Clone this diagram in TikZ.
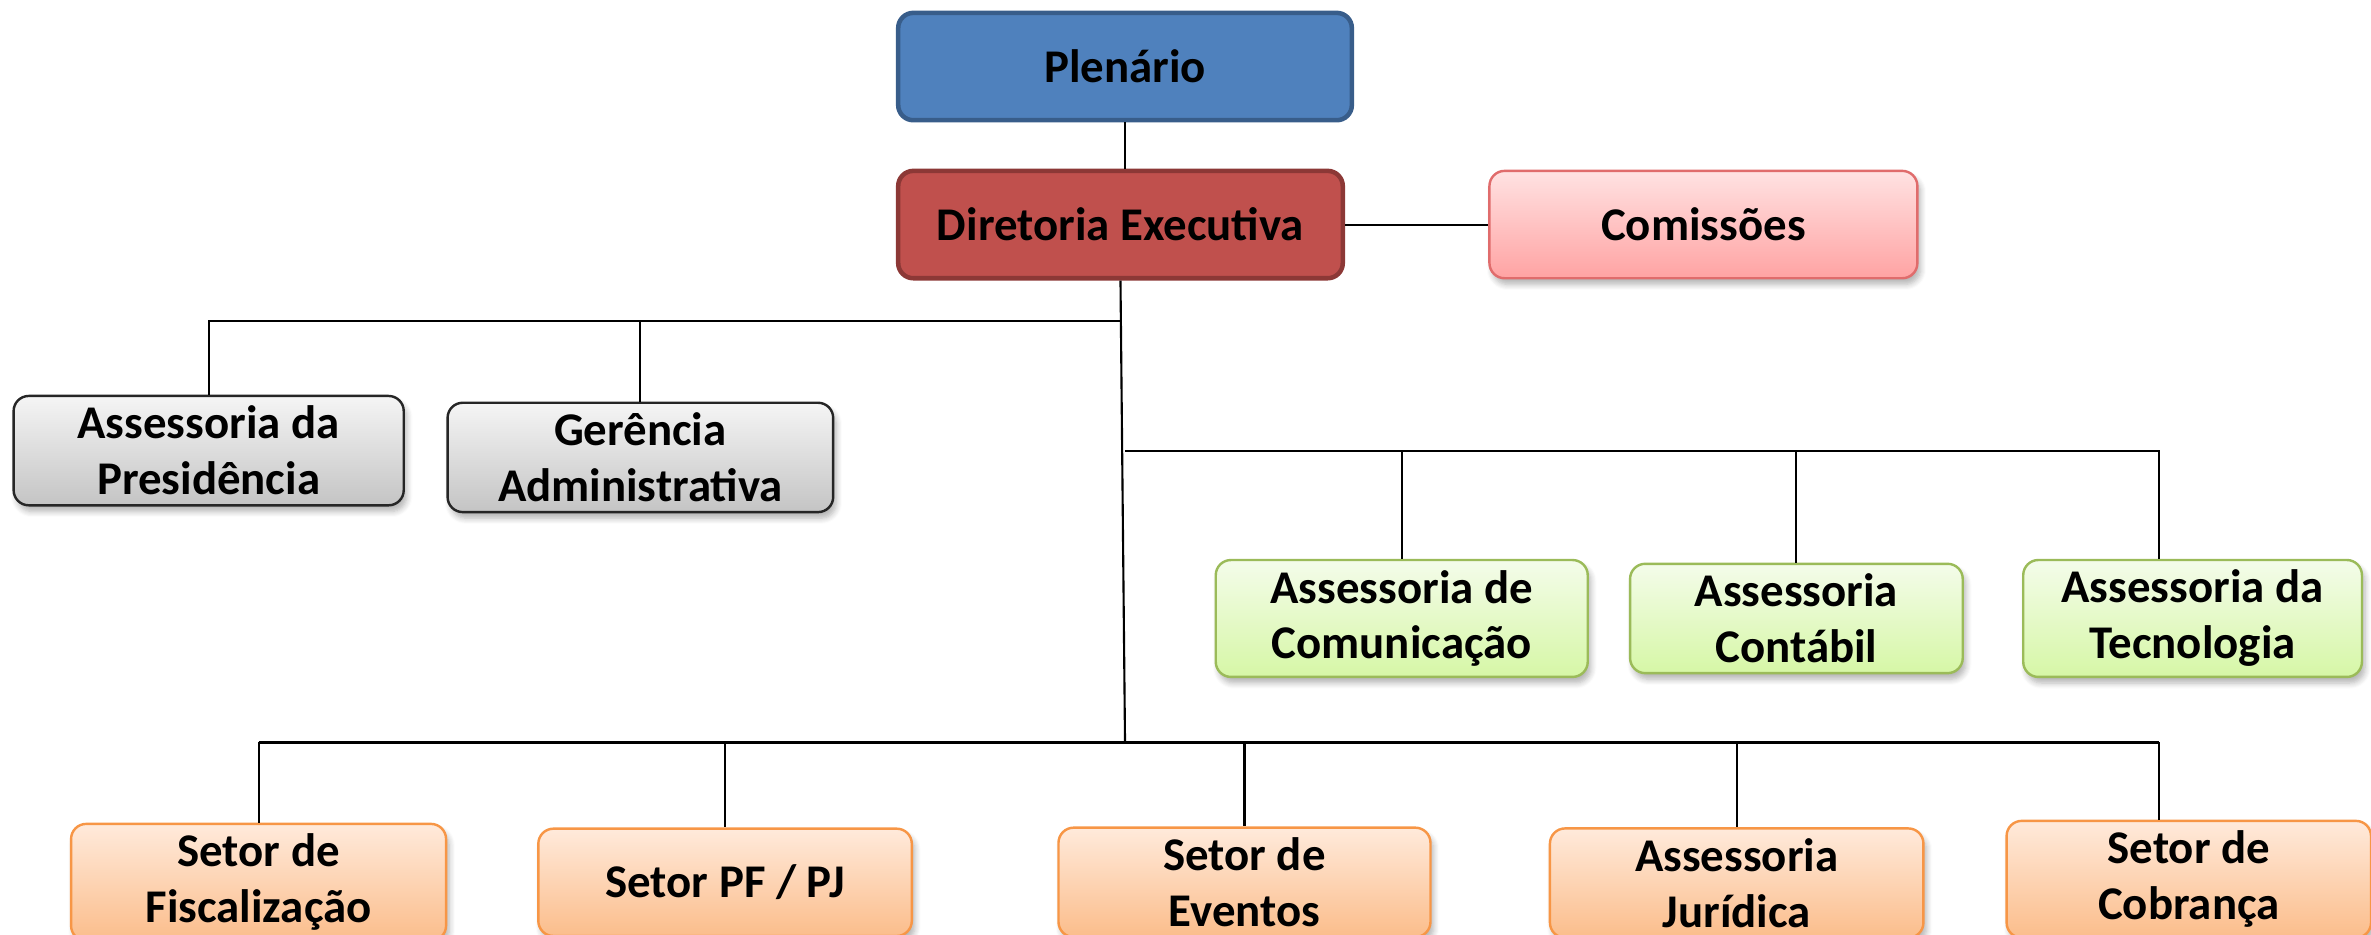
\documentclass[tikz,border=0pt]{standalone}
\usepackage{fontspec}
\setmainfont{Carlito}
\usepackage{tikz}
\usetikzlibrary{shadows,shadows.blur,calc}

\definecolor{plenfill}{HTML}{4F81BD}
\definecolor{plendraw}{HTML}{385D8A}
\definecolor{dirfill}{HTML}{C0504D}
\definecolor{dirdraw}{HTML}{8C3836}
\definecolor{comtop}{HTML}{FFE2E2}
\definecolor{combot}{HTML}{FFA3A3}
\definecolor{comdraw}{HTML}{E06C6C}
\definecolor{graytop}{HTML}{F5F5F5}
\definecolor{graybot}{HTML}{C4C4C4}
\definecolor{graydraw}{HTML}{262626}
\definecolor{greentop}{HTML}{F4FCEA}
\definecolor{greenbot}{HTML}{D6F7A6}
\definecolor{greendraw}{HTML}{9BBB59}
\definecolor{orangetop}{HTML}{FFEADB}
\definecolor{orangebot}{HTML}{FBBD8B}
\definecolor{orangedraw}{HTML}{F79646}

\begin{document}
\begin{tikzpicture}
  [
    x=0.5pt, y=-0.5pt,
    block/.style =
      {rectangle, rounded corners=5pt, align=center, minimum height=35.5pt,
       font=\bfseries\fontsize{15.5}{18.5}\selectfont, text=black},
    shade/.style =
      {blur shadow={shadow xshift=1pt, shadow yshift=-2pt, shadow opacity=30, shadow blur steps=6}},
    topblock/.style =
      {block, line width=1.5pt, draw=plendraw, fill=plenfill},
    execblock/.style =
      {block, line width=1.5pt, draw=dirdraw, fill=dirfill},
    pinkblock/.style =
      {block, shade, line width=0.8pt, draw=comdraw, top color=comtop, bottom color=combot},
    grayblock/.style =
      {block, shade, line width=0.8pt, draw=graydraw, top color=graytop, bottom color=graybot},
    greenblock/.style =
      {block, shade, line width=0.8pt, draw=greendraw, top color=greentop, bottom color=greenbot},
    orangeblock/.style =
      {block, shade, line width=0.8pt, draw=orangedraw, top color=orangetop, bottom color=orangebot},
    link/.style =
      {draw=black, line width=0.7pt}
  ]

\useasboundingbox (0,0) rectangle (1568,618);

% top levels
\node[topblock, minimum width=150pt] (plen) at (744,44) {Plenário};
\node[execblock, minimum width=147pt] (dir) at (741,148.5) {Diretoria Executiva};
\node[pinkblock, minimum width=141.5pt] (com) at (1126.5,148.5) {Comissões};

% staff
\node[grayblock, minimum width=129pt] (apres) at (138,298) {Assessoria da\\Presidência};
\node[grayblock, minimum width=127.5pt] (gadm) at (423.5,302.5) {Gerência\\Administrativa};

% advisory
\node[greenblock, minimum width=123pt] (acom) at (927,409) {Assessoria de\\Comunicação};
\node[greenblock, minimum width=110pt] (acont) at (1188,409) {Assessoria\\Contábil};
\node[greenblock, minimum width=112pt] (atec) at (1450,409) {Assessoria da\\Tecnologia};

% sectors
\node[orangeblock, minimum width=124pt] (sfis) at (171,583.5) {Setor de\\Fiscalização};
\node[orangeblock, minimum width=123.5pt] (spfpj) at (479.5,583.5) {Setor PF / PJ};
\node[orangeblock, minimum width=123pt] (seve) at (823,583.5) {Setor de\\Eventos};
\node[orangeblock, minimum width=123.5pt] (ajur) at (1148.5,584) {Assessoria\\Jurídica};
\node[orangeblock, minimum width=120.5pt] (scob) at (1447.5,581.5) {Setor de\\Cobrança};

% bus points
\coordinate (bstaff) at (741,212);
\coordinate (badv) at (744,298);
\coordinate (badvend) at (1428,298);
\coordinate (bsec) at (744,491);
\coordinate (bsecend) at (1428,491);

\draw [link] (plen.south) -- (plen.south |- dir.north);
\draw [link] (dir.east) -- (com.west);
\draw [link] (dir.south) -- (bsec);

\draw [link] (bstaff) -- (apres.north |- bstaff) -- (apres.north);
\draw [link] (gadm.north |- bstaff) -- (gadm.north);

\draw [link] (badv) -- (badvend) -- (badvend |- atec.north);
\draw [link] (acom.north |- badv) -- (acom.north);
\draw [link] (acont.north |- badv) -- (acont.north);

\draw [link, line width=1pt] (sfis.north |- bsec) -- (bsecend);
\draw [link] (sfis.north |- bsec) -- (sfis.north);
\draw [link] (spfpj.north |- bsec) -- (spfpj.north);
\draw [link] (seve.north |- bsec) -- (seve.north);
\draw [link] (ajur.north |- bsec) -- (ajur.north);
\draw [link] (bsecend) -- (bsecend |- scob.north);

\end{tikzpicture}
\end{document}
